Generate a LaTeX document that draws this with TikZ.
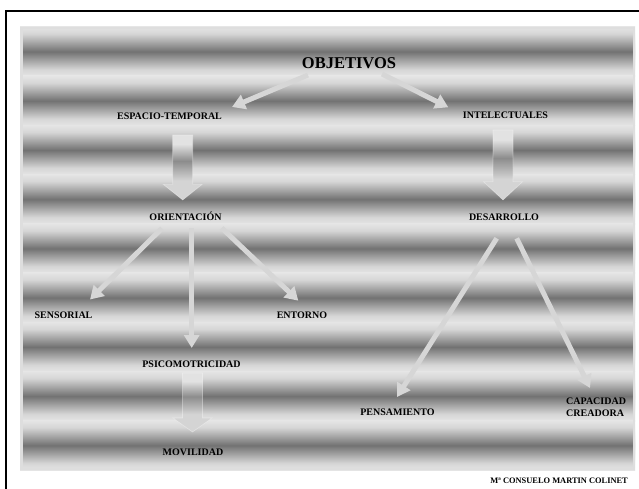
\documentclass[tikz,border=0pt]{standalone}
\usepackage{fontspec}
\setmainfont{Liberation Serif}
\usetikzlibrary{arrows.meta,calc}

\definecolor{bandlight}{RGB}{229,229,229}
\definecolor{bandsoft}{RGB}{214,214,214}
\definecolor{bandmid}{RGB}{170,170,170}
\definecolor{banddark}{RGB}{114,114,114}
\definecolor{panelrim}{RGB}{222,222,222}
\definecolor{arrowgray}{RGB}{214,214,214}
\definecolor{fatlight}{RGB}{226,226,226}
\definecolor{fatdark}{RGB}{140,140,140}
\definecolor{fathead}{RGB}{212,212,212}

% one light-dark-light band, symmetric about its middle
\pgfdeclareverticalshading{band}{100bp}{%
  color(0bp)=(bandlight); color(25bp)=(bandlight);
  color(32bp)=(bandsoft); color(40bp)=(bandmid); color(50bp)=(banddark);
  color(60bp)=(bandmid); color(68bp)=(bandsoft);
  color(75bp)=(bandlight); color(100bp)=(bandlight)}

% shading of the fat arrows: light, dark in the shaft, light in the head
\pgfdeclareverticalshading{fatshade}{100bp}{%
  color(0bp)=(fathead); color(25bp)=(fathead); color(40bp)=(fathead);
  color(55bp)=(fatdark); color(68bp)=(fatlight); color(75bp)=(fatlight);
  color(100bp)=(fatlight)}

\tikzset{
  lbl/.style={font=\fontsize{10}{12}\selectfont\bfseries, inner sep=0pt, anchor=base},
  title/.style={font=\fontsize{16.5}{19}\selectfont\bfseries, inner sep=0pt, anchor=base},
  signature/.style={font=\fontsize{8.4}{10}\selectfont\bfseries, inner sep=0pt, anchor=base east},
  thinarrow/.style={draw=arrowgray, line width=5pt, -{Triangle[width=15pt,length=13pt]}},
  blockarrow/.style={shading=fatshade, shade, draw=white, draw opacity=0.35, line width=0.6pt},
}

% fat downward arrow: #1 top centre, #2 shaft length, #3 head length
\newcommand\fatarrow[3]{%
  \path[blockarrow] #1 ++(-10,0) -- ++(20,0) -- ++(0,#2) -- ++(9.5,0)
    -- ++(-19.5,#3) -- ++(-19.5,-#3) -- ++(9.5,0) -- cycle;}

\begin{document}
\begin{tikzpicture}[x=1pt,y=-1pt]
\useasboundingbox (0,0) rectangle (639,489);
\fill[white] (0,0) rectangle (639,489);

% outer frame line
\draw[line width=1.3pt] (6,500) -- (6,11) -- (650,11);

% striped panel: nine bands
\pgfmathsetmacro\per{443/9}
\foreach \i in {0,...,8}{
  \pgfmathsetmacro\ya{27+\i*\per}
  \pgfmathsetmacro\yc{\ya+\per}
  \shade[shading=band] (20,\ya-0.3) rectangle (635,\yc+0.3);
}
\draw[panelrim, line width=2.5pt] (21.25,28.25) rectangle (633.75,468.75);

% labels
\node[title] (obj) at (349,69) {OBJETIVOS};
\node[lbl] (esp) at (169.5,119.3) {ESPACIO-TEMPORAL};
\node[lbl] (int) at (505.5,118.7) {INTELECTUALES};
\node[lbl] (ori) at (185.5,220) {ORIENTACIÓN};
\node[lbl] (des) at (504,220) {DESARROLLO};
\node[lbl] (sens) at (63.5,318.5) {SENSORIAL};
\node[lbl] (ent) at (302,318) {ENTORNO};
\node[lbl] (psi) at (191.5,367.5) {PSICOMOTRICIDAD};
\node[lbl] (mov) at (193,455) {MOVILIDAD};
\node[lbl] (pens) at (397.5,415.7) {PENSAMIENTO};
\node[lbl, anchor=north west, align=left, font=\fontsize{10}{12.3}\selectfont\bfseries]
  (cap) at (566,397.5) {CAPACIDAD\\CREADORA};
\node[signature] (sig) at (628,483) {Mª CONSUELO MARTIN COLINET};

% thin arrows
\draw[thinarrow] ($(obj.base)+(-41,6)$) -- ($(esp.base)+(62.5,-12.3)$);
\draw[thinarrow] ($(obj.base)+(33,5)$) -- ($(int.base)+(-57.2,-11.4)$);
\draw[thinarrow] ($(ori.base)+(-23.5,8.3)$) -- ($(sens.base)+(26.5,-19)$);
\draw[thinarrow] ($(ori.base)+(6.2,8)$) -- ($(psi.base)+(0.2,-19.5)$);
\draw[thinarrow] ($(ori.base)+(36.2,8)$) -- ($(ent.base)+(-3.7,-17.3)$);
\draw[thinarrow] ($(des.base)+(-7.3,18.3)$) -- ($(pens.base)+(-0.5,-18.7)$);
\draw[thinarrow] ($(des.base)+(12.7,18.3)$) -- ($(cap.north west)+(24,-9.5)$);

% fat arrows
\fatarrow{($(esp.base)+(13.2,15.7)$)}{49.3}{15.7}
\fatarrow{($(int.base)+(-2.5,11.3)$)}{51.7}{18.3}
\fatarrow{($(psi.base)+(1,5.5)$)}{45}{14}
\end{tikzpicture}
\end{document}
